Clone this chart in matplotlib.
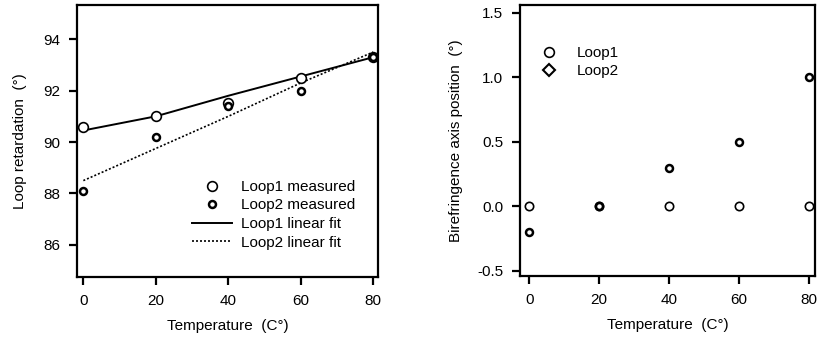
import matplotlib
matplotlib.use("Agg")
import matplotlib.pyplot as plt
from matplotlib.lines import Line2D

plt.rcParams['font.family'] = ['Liberation Sans', 'DejaVu Sans']

# Data
temps = [0, 20, 40, 60, 80]
loop1_ret = [90.6, 91.0, 91.5, 92.5, 93.3]
loop2_ret = [88.1, 90.2, 91.4, 92.0, 93.3]
loop1_fit = [90.45, 91.0, 91.8, 92.55, 93.3]
loop2_fit = [88.5, 89.75, 91.0, 92.3, 93.5]

loop1_axis = [0.0, 0.0, 0.0, 0.0, 0.0]
loop2_axis = [-0.2, 0.0, 0.3, 0.5, 1.0]

left_yticks = [86, 88, 90, 92, 94]
right_yticks = [-0.5, 0.0, 0.5, 1.0, 1.5]
xticks = [0, 20, 40, 60, 80]

fig = plt.figure(figsize=(8.17, 3.44), dpi=100)
ax1 = fig.add_axes([77/817, 67/344, 301/817, 272/344])
ax2 = fig.add_axes([520/817, 68/344, 295/817, 271/344])

fs = 11
for ax in (ax1, ax2):
    for s in ax.spines.values():
        s.set_linewidth(1.6)
    ax.tick_params(direction='out', length=6, width=1.6, labelsize=fs, pad=6)
    ax.set_xticks(xticks)
    ax.set_xlabel('Temperature  (C°)', fontsize=fs, labelpad=8)

# Left panel
ax1.plot(temps, loop1_fit, color='black', lw=1.4, label='Loop1 linear fit')
ax1.plot(temps, loop2_fit, color='black', lw=1.2, ls=(0, (1.2, 1.2)), label='Loop2 linear fit')
ax1.plot(temps, loop1_ret, ls='none', marker='o', ms=7, mfc='white', mec='black', mew=1.2, label='Loop1 measured')
ax1.plot(temps, loop2_ret, ls='none', marker='o', ms=5, mfc='white', mec='black', mew=1.8, label='Loop2 measured')
ax1.set_xlim(-1.75, 81.3)
ax1.set_ylim(84.75, 95.33)
ax1.set_yticks(left_yticks)
ax1.set_ylabel('Loop retardation  (°)', fontsize=fs, labelpad=12)
h = [Line2D([], [], ls='none', marker='o', ms=7, mfc='white', mec='black', mew=1.2),
     Line2D([], [], ls='none', marker='o', ms=5, mfc='white', mec='black', mew=1.8),
     Line2D([], [], color='black', lw=1.4),
     Line2D([], [], color='black', lw=1.2, ls=(0, (1.2, 1.2)))]
ax1.legend(h, ['Loop1 measured', 'Loop2 measured', 'Loop1 linear fit', 'Loop2 linear fit'],
           loc='lower right', bbox_to_anchor=(0.97, 0.05), frameon=False, fontsize=fs,
           handlelength=2.6, labelspacing=0.3, handletextpad=0.6)

# Right panel
ax2.plot(temps, loop1_axis, ls='none', marker='o', ms=6, mfc='white', mec='black', mew=1.2, label='Loop1')
ax2.plot(temps, loop2_axis, ls='none', marker='o', ms=5, mfc='white', mec='black', mew=1.8, label='Loop2')
ax2.set_xlim(-2.66, 81.7)
ax2.set_ylim(-0.54, 1.56)
ax2.set_yticks(right_yticks)
ax2.set_yticklabels(['-0.5', '0.0', '0.5', '1.0', '1.5'])
ax2.set_ylabel('Birefringence axis position  (°)', fontsize=fs, labelpad=10)
h2 = [Line2D([], [], ls='none', marker='o', ms=7, mfc='white', mec='black', mew=1.2),
      Line2D([], [], ls='none', marker='D', ms=6, mfc='white', mec='black', mew=1.5)]
ax2.legend(h2, ['Loop1', 'Loop2'], loc='upper left', bbox_to_anchor=(0.0, 0.9),
           frameon=False, fontsize=fs, labelspacing=0.3, handletextpad=0.8)

fig.savefig('out.png', dpi=100)
